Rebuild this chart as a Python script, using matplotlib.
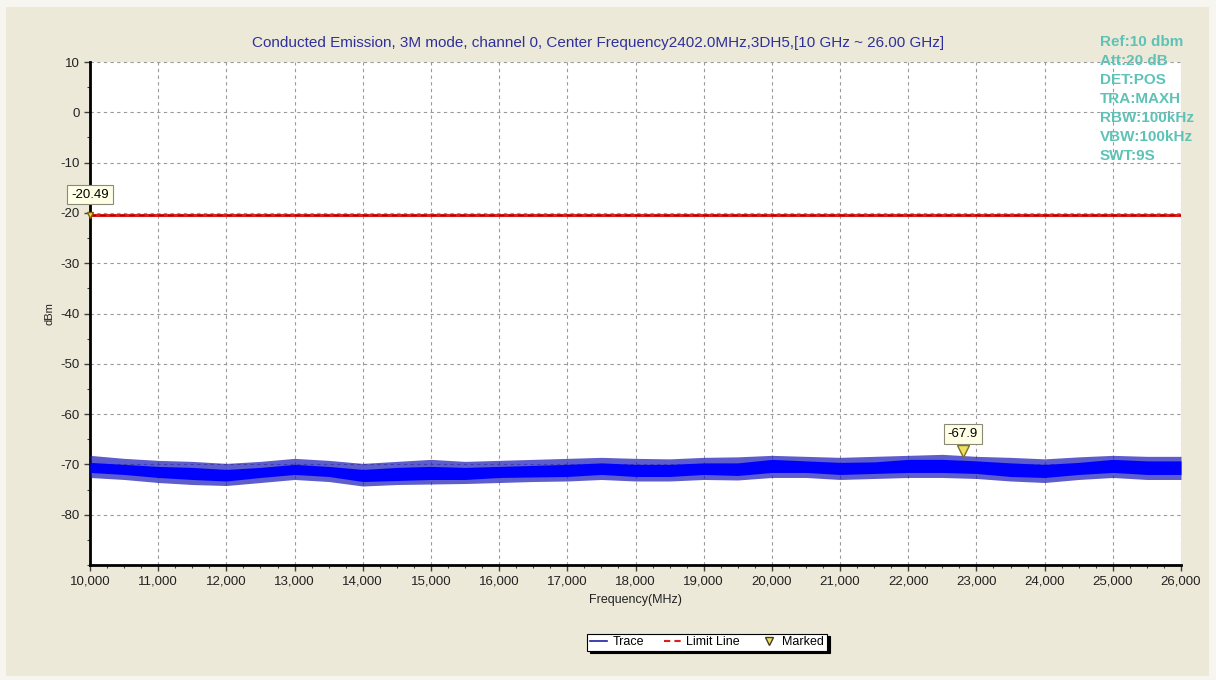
import matplotlib.pyplot as plt
import numpy as np
from matplotlib.lines import Line2D
from matplotlib.patches import Rectangle
from matplotlib.ticker import MultipleLocator

plt.rcParams['font.family'] = ['Liberation Sans', 'DejaVu Sans']
plt.rcParams['axes.unicode_minus'] = False

# ------------------------------------------------------------
# Data
# ------------------------------------------------------------
freq = [10000, 10500, 11000, 11500, 12000, 12500, 13000, 13500, 14000, 14500,
        15000, 15500, 16000, 16500, 17000, 17500, 18000, 18500, 19000, 19500,
        20000, 20500, 21000, 21500, 22000, 22500, 23000, 23500, 24000, 24500,
        25000, 25500, 26000]
# dense part of the noise trace (dBm)
trace_top = [-69.6, -70.0, -70.4, -70.6, -71.0, -70.6, -70.0, -70.4, -71.0, -70.6,
             -70.4, -70.6, -70.4, -70.2, -70.0, -69.7, -70.0, -70.0, -69.7, -69.7,
             -69.0, -69.3, -69.6, -69.5, -69.0, -69.0, -69.3, -69.7, -70.0, -69.6,
             -69.0, -69.3, -69.3]
trace_bot = [-71.6, -72.0, -72.6, -73.0, -73.3, -72.6, -72.0, -72.4, -73.4, -73.2,
             -73.0, -73.0, -72.6, -72.5, -72.4, -72.0, -72.4, -72.4, -72.0, -72.2,
             -71.6, -71.6, -72.0, -71.8, -71.6, -71.6, -71.8, -72.4, -72.6, -72.0,
             -71.6, -72.0, -72.0]
# extremes reached by the single spikes (dBm)
spike_top = [-68.2, -68.8, -69.2, -69.4, -69.8, -69.4, -68.8, -69.2, -69.8, -69.4,
             -69.0, -69.4, -69.2, -69.0, -68.8, -68.6, -68.8, -68.9, -68.6, -68.5,
             -68.2, -68.4, -68.6, -68.4, -68.2, -68.0, -68.4, -68.6, -68.9, -68.5,
             -68.2, -68.4, -68.4]
spike_bot = [-72.6, -73.0, -73.6, -74.0, -74.2, -73.6, -73.0, -73.4, -74.3, -74.0,
             -73.9, -73.8, -73.6, -73.4, -73.3, -73.0, -73.3, -73.3, -73.0, -73.1,
             -72.6, -72.6, -73.0, -72.8, -72.6, -72.6, -72.8, -73.3, -73.6, -73.0,
             -72.6, -73.0, -73.0]

limit_freq = [10000, 26000]
limit_level = [-20.49, -20.49]

marker_freq = [10000, 22800]
marker_level = [-20.49, -67.9]
marker_text = ['-20.49', '-67.9']

xticks = [10000, 11000, 12000, 13000, 14000, 15000, 16000, 17000, 18000,
          19000, 20000, 21000, 22000, 23000, 24000, 25000, 26000]
xtick_labels = ['10,000', '11,000', '12,000', '13,000', '14,000', '15,000',
                '16,000', '17,000', '18,000', '19,000', '20,000', '21,000',
                '22,000', '23,000', '24,000', '25,000', '26,000']
yticks = [10, 0, -10, -20, -30, -40, -50, -60, -70, -80]

title = ('Conducted Emission, 3M mode, channel 0, Center Frequency2402.0MHz,'
         '3DH5,[10 GHz ~ 26.00 GHz]')
settings = ['Ref:10 dbm', 'Att:20 dB', 'DET:POS', 'TRA:MAXH',
            'RBW:100kHz', 'VBW:100kHz', 'SWT:9S']

# ------------------------------------------------------------
# Figure
# ------------------------------------------------------------
W, H = 1216, 680
fig = plt.figure(figsize=(W / 100, H / 100), dpi=100, facecolor='#F6F5EF')
fig.patches.append(Rectangle((6 / W, 4 / H), 1203 / W, 669 / H,
                             transform=fig.transFigure, facecolor='#ECE9D8',
                             edgecolor='none', zorder=-10))

ax = fig.add_axes([90 / W, 1 - 565 / H, 1091 / W, 503 / H])
ax.set_facecolor('white')

# grid
ax.grid(True, which='major', color='#9A9A9A', linestyle=(0, (3, 3)), linewidth=0.8)
ax.set_axisbelow(True)

# trace as noise envelope
ax.fill_between(freq, spike_bot, spike_top, color='#1818B8', alpha=0.7,
                linewidth=0, zorder=3)
ax.fill_between(freq, trace_bot, trace_top, color='#0000FF', linewidth=0, zorder=4)

# limit line
ax.plot(limit_freq, limit_level, color='#D82020', linewidth=2.2, zorder=5)
ax.plot(limit_freq, limit_level, color='#A00000', linewidth=1.0,
        linestyle=(0, (4, 3)), zorder=6)

# markers with value boxes
ax.plot(marker_freq[0], marker_level[0], marker='v', markersize=5,
        markerfacecolor='#F0E060', markeredgecolor='#806000', linestyle='none',
        zorder=7, clip_on=False)
ax.plot(marker_freq[1], marker_level[1] + 0.6, marker='v', markersize=8,
        markerfacecolor='#F0E060', markeredgecolor='#807020', linestyle='none',
        zorder=7)
box = dict(boxstyle='square,pad=0.3', facecolor='#FFFFE6', edgecolor='#8A8A7A',
           linewidth=0.8)
ax.annotate(marker_text[0], (marker_freq[0], marker_level[0]),
            xytext=(0, 15), textcoords='offset points', ha='center', va='center',
            fontsize=9.5, bbox=box, annotation_clip=False, zorder=8)
ax.annotate(marker_text[1], (marker_freq[1], marker_level[1]),
            xytext=(0, 14.5), textcoords='offset points', ha='center', va='center',
            fontsize=9.5, bbox=box, zorder=8)

# axes
ax.set_xlim(10000, 26000)
ax.set_ylim(-90, 10)
ax.set_xticks(xticks)
ax.set_xticklabels(xtick_labels)
ax.set_yticks(yticks)
ax.xaxis.set_minor_locator(MultipleLocator(250))
ax.yaxis.set_minor_locator(MultipleLocator(5))
ax.tick_params(axis='both', which='major', labelsize=9.5, length=4, width=1,
               color='#404040', labelcolor='#222222')
ax.tick_params(axis='both', which='minor', length=2.5, width=0.8, color='#404040')
for s in ['top', 'right']:
    ax.spines[s].set_visible(False)
for s in ['left', 'bottom']:
    ax.spines[s].set_linewidth(2.0)
    ax.spines[s].set_color('black')

ax.set_xlabel('Frequency(MHz)', fontsize=9, labelpad=5, color='#222222')
ax.set_ylabel('dBm', fontsize=8, labelpad=4, color='#222222')

fig.text(598 / W, 1 - 43 / H, title, ha='center', va='center', fontsize=11,
         color='#30309A')

for i, s in enumerate(settings):
    fig.text(1100 / W, 1 - (42 + i * 19) / H, s, ha='left', va='center',
             fontsize=11, fontweight='bold', color='#5EC2B6')

# legend
handles = [
    Line2D([], [], color='#2020A0', linewidth=1.2),
    Line2D([], [], color='#D82020', linewidth=1.5, linestyle=(0, (3, 2))),
    Line2D([], [], marker='v', markersize=6, markerfacecolor='#F0E060',
           markeredgecolor='#404020', linestyle='none'),
]
leg = fig.legend(handles, ['Trace', 'Limit Line', 'Marked'], ncol=3,
                 loc='center', bbox_to_anchor=(707 / W, 1 - 642 / H),
                 fontsize=9, frameon=True, fancybox=False, edgecolor='black',
                 handlelength=1.4, handletextpad=0.4, columnspacing=1.6,
                 borderpad=0.2, shadow={'color': 'black', 'alpha': 1})
leg.get_frame().set_linewidth(0.8)

fig.savefig('out.png', dpi=100, facecolor=fig.get_facecolor())
